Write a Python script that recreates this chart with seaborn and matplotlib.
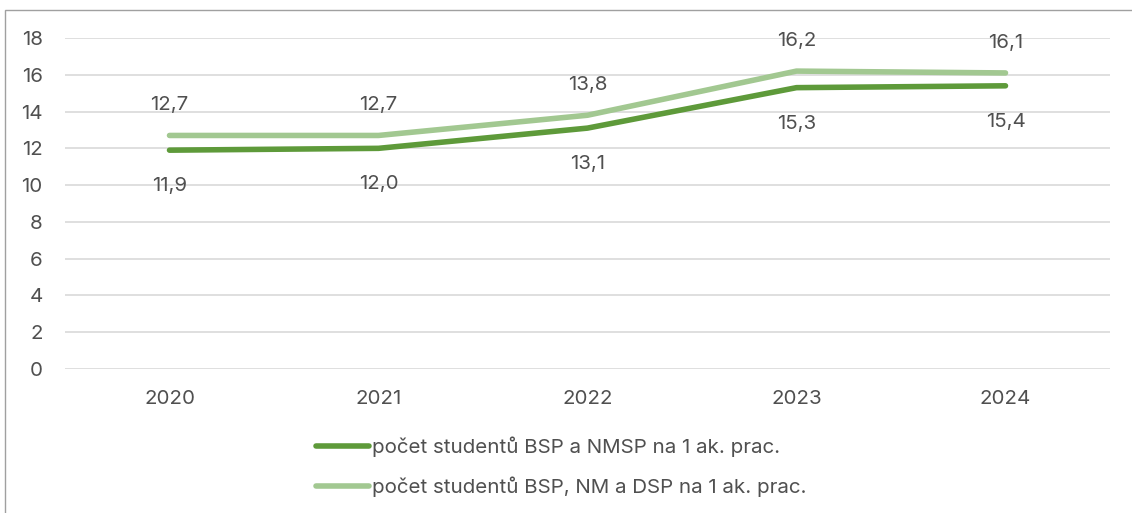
import pandas as pd
import matplotlib.pyplot as plt
import seaborn as sns
from matplotlib.patches import Rectangle

years = ['2020', '2021', '2022', '2023', '2024']
bsp_nmsp = [11.9, 12.0, 13.1, 15.3, 15.4]
bsp_nm_dsp = [12.7, 12.7, 13.8, 16.2, 16.1]
names = ['počet studentů BSP a NMSP na 1 ak. prac.',
         'počet studentů BSP, NM a DSP na 1 ak. prac.']
colors = ['#5e9a3a', '#a2c891']

df = pd.DataFrame({'rok': years * 2,
                   'hodnota': bsp_nmsp + bsp_nm_dsp,
                   'rada': [names[0]] * 5 + [names[1]] * 5})

sns.set_style('white')
plt.rcParams['font.family'] = ['Inter', 'DejaVu Sans']
txt = '#505050'
fs = 14.8

fig = plt.figure(figsize=(11.32, 5.13), dpi=100)
ax = fig.add_axes([65 / 1132, 1 - 369 / 513, (1110 - 65) / 1132, (369 - 38) / 513])
fig.patches.append(Rectangle((5 / 1132, -0.1), 1.2, 1 - 10 / 513 + 0.1, transform=fig.transFigure,
                             fill=False, edgecolor='#a0a0a0', linewidth=1))

sns.lineplot(data=df, x='rok', y='hodnota', hue='rada', palette=colors, linewidth=4,
             solid_capstyle='round', ax=ax, legend=False, sort=False)

ax.set_ylim(0, 18)
ax.set_yticks(range(0, 19, 2))
ax.set_xlim(-0.5, 4.5)
ax.yaxis.grid(True, color='#d9d9d9', linewidth=1.2)
ax.set_axisbelow(True)
for s in ax.spines.values():
    s.set_visible(False)
ax.tick_params(axis='both', length=0, labelsize=fs, labelcolor=txt, pad=16)
ax.tick_params(axis='x', pad=15)
ax.set_xlabel('')
ax.set_ylabel('')

for i, (a, b) in enumerate(zip(bsp_nmsp, bsp_nm_dsp)):
    ax.annotate(f'{a:.1f}'.replace('.', ','), (i, a), xytext=(0, -36), textcoords='offset pixels',
                ha='center', va='center', fontsize=fs, color=txt)
    ax.annotate(f'{b:.1f}'.replace('.', ','), (i, b), xytext=(0, 30), textcoords='offset pixels',
                ha='center', va='center', fontsize=fs, color=txt)

handles = [plt.Line2D([], [], color=c, linewidth=4, solid_capstyle='round') for c in colors]
fig.legend(handles, names, loc='upper left', bbox_to_anchor=(297 / 1132, 1 - 418 / 513),
           frameon=False, fontsize=fs, handlelength=2.6, handletextpad=0.15, labelspacing=0.95,
           labelcolor=txt)

fig.savefig('out.png', dpi=100)
